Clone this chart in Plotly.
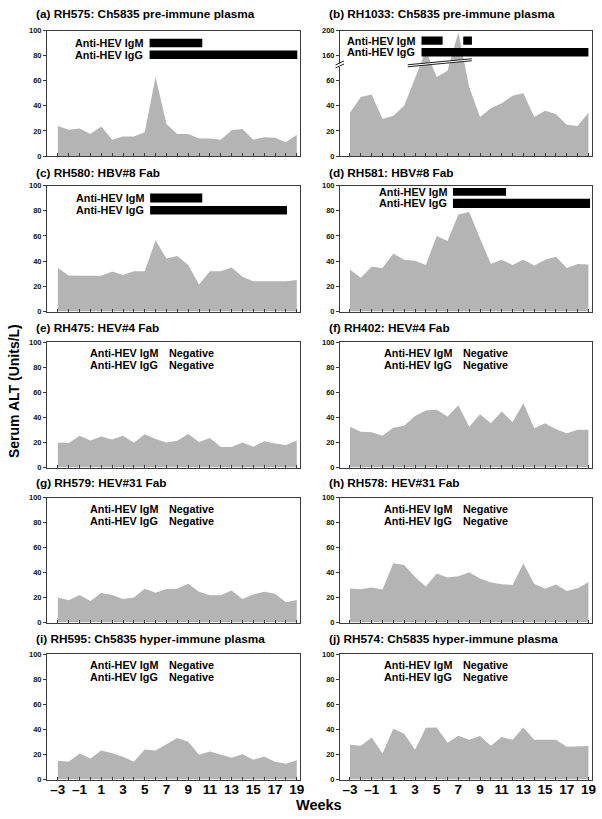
import plotly.graph_objects as go

# ---------------- data ----------------
weeks = list(range(-3, 20))
week_labels = [("–" + str(-w) if w < 0 else str(w)) if w % 2 != 0 else "" for w in weeks]

alt_a = [24, 21, 22, 17.5, 23.5, 13, 15.5, 15.5, 19, 63, 25.5, 17.5, 17.5, 14, 14, 13, 20.5, 21.5, 13, 15, 14.5, 11, 17]
alt_b = [34.5, 47, 49, 29.5, 32, 40, 62, 168, 63, 68, 197, 55, 31, 38, 42, 48, 50, 31, 36, 33.5, 25, 24, 34.5]
alt_c = [34.5, 28.5, 28.3, 28.3, 28.3, 31.8, 29, 32, 32, 56.5, 42, 44, 37, 21.5, 32, 32, 35, 27.5, 24, 24, 24, 24, 25]
alt_d = [33.4, 26.8, 35.5, 34.5, 46, 41, 40.3, 37, 60, 56, 77, 79, 58, 37.7, 41, 37, 41, 36.6, 41, 43.5, 34.5, 37.7, 37.4]
alt_e = [20, 19.5, 25.3, 21.6, 24.8, 22.4, 25.3, 19.7, 26.4, 22.7, 20, 21.3, 26.7, 20.3, 23.5, 16.3, 16.3, 20, 16.5, 21, 19.2, 18, 21.6]
alt_f = [32.4, 28.4, 28, 25.2, 31.6, 33.2, 41, 45.4, 46, 40.6, 49.6, 32.4, 42.4, 35.3, 44.6, 36.3, 51.2, 31.3, 35.3, 30.5, 27.3, 30, 30]
alt_g = [20, 17.8, 22, 17.2, 23.6, 22, 18.8, 20, 27, 23.9, 26.8, 27, 31, 24.7, 21.8, 21.8, 25.7, 18.8, 22.5, 24.7, 23, 16.2, 18]
alt_h = [27.2, 26.7, 28, 26.4, 47.5, 46, 36.5, 28.8, 39.2, 36, 37, 40.3, 35.2, 32, 30.7, 30.1, 47.2, 31, 27, 30.4, 25.3, 27.5, 32.3]
alt_i = [14.9, 14.1, 20.7, 16.8, 23.1, 21, 18.1, 14.1, 24, 23.1, 28, 33, 30, 19.7, 22.3, 19.7, 17.3, 20.2, 15.7, 18.4, 14.1, 12.5, 15.4]
alt_j = [27.7, 26.9, 33.5, 20.7, 40.4, 36.4, 23.7, 41.2, 41.5, 29.3, 34.8, 31.6, 34.6, 26.9, 33.8, 31.6, 41.5, 31.6, 31.6, 31.6, 26, 26, 26.6]

titles = [
    "(a) RH575: Ch5835 pre-immune plasma",
    "(b) RH1033: Ch5835 pre-immune plasma",
    "(c) RH580: HBV#8 Fab",
    "(d) RH581: HBV#8 Fab",
    "(e) RH475: HEV#4 Fab",
    "(f) RH402: HEV#4 Fab",
    "(g) RH579: HEV#31 Fab",
    "(h) RH578: HEV#31 Fab",
    "(i) RH595: Ch5835 hyper-immune plasma",
    "(j) RH574: Ch5835 hyper-immune plasma",
]

# antibody-positive intervals (weeks)
igm_a = [(5.45, 10.3)]
igg_a = [(5.45, 19.05)]
igm_b = [(3.6, 5.55), (7.45, 8.25)]
igg_b = [(3.6, 19.0)]
igm_c = [(5.5, 10.3)]
igg_c = [(5.5, 18.1)]
igm_d = [(6.5, 11.4)]
igg_d = [(6.5, 19.15)]

y_ticks = [0, 20, 40, 60, 80, 100]
b_ticks = [0, 20, 40, 60, 160, 200]

# ---------------- layout helpers ----------------
W, H = 602, 819
FONT = "Liberation Sans, Arial, Helvetica, sans-serif"
FILL = "#b4b4b4"
LINE = "#3a3a3a"

col_px = [(47, 300), (340, 592)]
col_range = [(-4.0, 19.3), (-3.92, 19.33)]
row_px = [(30.5, 156), (185.5, 311.5), (342, 467.5), (497.5, 622.5), (654, 779.5)]
title_y = [14, 173, 328, 483, 638.5]
title_x = [34, 327]


def b_pos(v):
    # broken axis in panel (b): 160-200 drawn where 80-100 would be
    return v if v < 150 else 80 + (v - 160) / 2.0


series = [alt_a, [b_pos(v) for v in alt_b], alt_c, alt_d, alt_e, alt_f, alt_g, alt_h, alt_i, alt_j]

# per positive panel: (igm, igg, igm band, igg band)
positive = {
    0: (igm_a, igg_a, (86.7, 93.5), (77.2, 84.0)),
    1: (igm_b, igg_b, (88.6, 95.2), (79.3, 86.0)),
    2: (igm_c, igg_c, (86.5, 93.6), (77.0, 83.8)),
    3: (igm_d, igg_d, (91.8, 98.0), (82.2, 89.4)),
}

fig = go.Figure()
layout = dict(
    template="none",
    width=W, height=H, margin=dict(l=0, r=0, t=0, b=0, autoexpand=False),
    paper_bgcolor="white", plot_bgcolor="white", showlegend=False,
    font=dict(family=FONT, color="black"),
)
annotations = []
shapes = []

for i in range(10):
    row, col = divmod(i, 2)
    n = i + 1
    xa = "x" if n == 1 else f"x{n}"
    ya = "y" if n == 1 else f"y{n}"
    xkey = "xaxis" if n == 1 else f"xaxis{n}"
    ykey = "yaxis" if n == 1 else f"yaxis{n}"
    x0, x1 = col_px[col]
    top, bot = row_px[row]
    fig.add_trace(go.Scatter(
        x=weeks, y=series[i], mode="lines", fill="tozeroy",
        fillcolor=FILL, line=dict(width=0, color=FILL),
        xaxis=xa, yaxis=ya, hoverinfo="skip",
    ))
    bottom_row = row == 4
    layout[xkey] = dict(
        domain=[x0 / W, x1 / W], range=list(col_range[col]), anchor=ya,
        tickmode="array", tickvals=weeks,
        ticktext=week_labels if bottom_row else [""] * len(weeks),
        showticklabels=bottom_row, automargin=False, ticklabeloverflow="allow",
        ticklabelstandoff=-3,
        ticks="inside", ticklen=3, tickwidth=1, tickcolor=LINE,
        showline=True, linecolor=LINE, linewidth=1, mirror=True,
        showgrid=False, zeroline=False, fixedrange=True,
        tickfont=dict(size=13.5, family=FONT, color="black", weight="bold"),
    )
    tv = y_ticks
    tt = [str(v) for v in (b_ticks if i == 1 else y_ticks)]
    layout[ykey] = dict(
        domain=[1 - bot / H, 1 - top / H], range=[0, 100], anchor=xa,
        tickmode="array", tickvals=tv, ticktext=tt, automargin=False,
        ticks="outside", ticklen=3, tickwidth=1, tickcolor=LINE,
        showline=True, linecolor=LINE, linewidth=1, mirror=True,
        showgrid=False, zeroline=False, fixedrange=True,
        tickfont=dict(size=7.5, family=FONT, color="#111", weight="bold"),
    )
    # panel title
    annotations.append(dict(
        text=titles[i], xref="paper", yref="paper",
        x=title_x[col] / W, y=1 - title_y[row] / H, xanchor="left", yanchor="middle",
        showarrow=False, font=dict(size=11.8, family=FONT, color="black", weight="bold"),
    ))
    lab_font = dict(size=10.8, family=FONT, color="black", weight="bold")
    if i in positive:
        igm, igg, bm, bg = positive[i]
        for (s, e) in igm:
            shapes.append(dict(type="rect", xref=xa, yref=ya, x0=s, x1=e, y0=bm[0], y1=bm[1],
                               fillcolor="black", line=dict(width=0)))
        for (s, e) in igg:
            shapes.append(dict(type="rect", xref=xa, yref=ya, x0=s, x1=e, y0=bg[0], y1=bg[1],
                               fillcolor="black", line=dict(width=0)))
        start = igg[0][0]
        annotations.append(dict(text="Anti-HEV IgM", xref=xa, yref=ya, x=start - 0.4,
                                y=(bm[0] + bm[1]) / 2, xanchor="right", yanchor="middle",
                                showarrow=False, font=lab_font))
        annotations.append(dict(text="Anti-HEV IgG", xref=xa, yref=ya, x=start - 0.4,
                                y=(bg[0] + bg[1]) / 2, xanchor="right", yanchor="middle",
                                showarrow=False, font=lab_font))
    else:
        lx = -0.2 if col == 0 else -0.05
        nx = 7.05 if col == 0 else 7.25
        for lab, yy in (("Anti-HEV IgM", 91), ("Anti-HEV IgG", 81.3)):
            annotations.append(dict(text=lab, xref=xa, yref=ya, x=lx, y=yy,
                                    xanchor="left", yanchor="middle", showarrow=False, font=lab_font))
            annotations.append(dict(text="Negative", xref=xa, yref=ya, x=nx, y=yy,
                                    xanchor="left", yanchor="middle", showarrow=False, font=lab_font))

# axis-break decoration for panel (b)
brk_x = (2.33, 8.24)
brk_lo = (71.1, 75.9)
brk_hi = (72.7, 77.5)
shapes.append(dict(type="path", xref="x2", yref="y2",
                   path=f"M {brk_x[0]},{brk_lo[0]} L {brk_x[1]},{brk_lo[1]} L {brk_x[1]},{brk_hi[1]} L {brk_x[0]},{brk_hi[0]} Z",
                   fillcolor="white", line=dict(width=0)))
for (ya0, ya1) in (brk_lo, brk_hi):
    shapes.append(dict(type="line", xref="x2", yref="y2", x0=brk_x[0], y0=ya0, x1=brk_x[1], y1=ya1,
                       line=dict(color="#222", width=1.2)))
# break on the y axis line itself
shapes.append(dict(type="rect", xref="paper", yref="paper",
                   x0=338.5 / W, x1=341.5 / W, y0=1 - 67 / H, y1=1 - 63.5 / H,
                   fillcolor="white", line=dict(width=0)))
for off in (0, 3):
    shapes.append(dict(type="line", xref="paper", yref="paper",
                       x0=335.5 / W, y0=1 - (66.5 + off - 1.5) / H, x1=344 / W, y1=1 - (62.5 + off - 1.5) / H,
                       line=dict(color="#222", width=1)))

# global axis titles
annotations.append(dict(text="Weeks", xref="paper", yref="paper", x=319 / W, y=1 - 805 / H,
                        xanchor="center", yanchor="middle", showarrow=False,
                        font=dict(size=14.5, family=FONT, color="black", weight="bold")))
annotations.append(dict(text="Serum ALT (Units/L)", xref="paper", yref="paper", x=14 / W, y=1 - 391 / H,
                        xanchor="center", yanchor="middle", showarrow=False, textangle=-90,
                        font=dict(size=14, family=FONT, color="black", weight="bold")))

layout["annotations"] = annotations
layout["shapes"] = shapes
fig.update_layout(**layout)
fig.write_html("out.html", config={"displayModeBar": False},
               post_script="document.body.style.margin='0';document.body.style.padding='0';")
